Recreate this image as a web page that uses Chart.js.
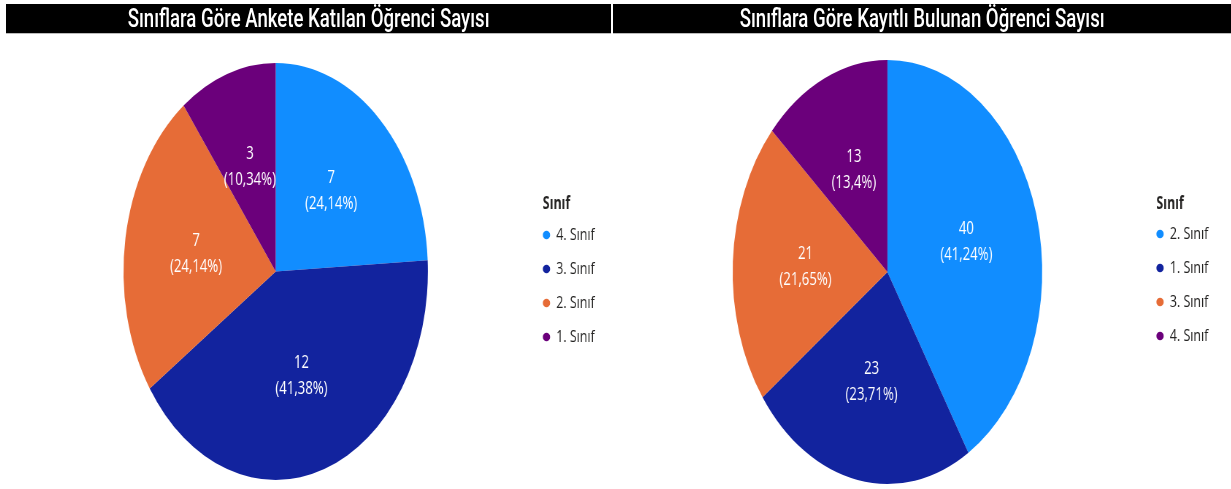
<!DOCTYPE html>
<html lang="tr">
<head>
<meta charset="UTF-8">
<title>Sınıflara Göre Öğrenci Sayısı</title>
<script src="https://cdn.jsdelivr.net/npm/chart.js"></script>
<style>
  html, body { margin: 0; padding: 0; background: #fff; }
  body { width: 1231px; height: 489px; position: relative; overflow: hidden; }
  .panel {
    position: absolute; top: 0; height: 489px;
    transform: scaleX(0.73); transform-origin: 0 0;
  }
  .bar {
    position: absolute; top: 4px; left: 0; right: 0; height: 29px;
    background: #000; color: #fff; text-align: center;
    font-family: Roboto, "Noto Sans", sans-serif; font-size: 25.5px; font-weight: 500; line-height: 29px;
    border-bottom: 1px solid #bbb;
  }
  .box { position: absolute; top: 33px; left: 0; right: 0; bottom: 0; }
</style>
</head>
<body>
<div class="panel" style="left:6px; width:829px;">
  <div class="bar">Sınıflara Göre Ankete Katılan Öğrenci Sayısı</div>
  <div class="box"><canvas id="leftChart"></canvas></div>
</div>
<div class="panel" style="left:613px; width:847px;">
  <div class="bar">Sınıflara Göre Kayıtlı Bulunan Öğrenci Sayısı</div>
  <div class="box"><canvas id="rightChart"></canvas></div>
</div>
<script>
// anket
const leftLabels = ['4. Sınıf', '3. Sınıf', '2. Sınıf', '1. Sınıf'];
const leftValues = [7, 12, 7, 3];
// kayıtlı
const rightLabels = ['2. Sınıf', '1. Sınıf', '3. Sınıf', '4. Sınıf'];
const rightValues = [40, 23, 21, 13];

const sliceColors = ['#118DFF', '#12239E', '#E66C37', '#6B007B'];
const labelFont = '"Open Sans", "Noto Sans", sans-serif';

// value + percent inside each slice
const sliceLabels = {
  id: 'sliceLabels',
  afterDatasetsDraw(chart) {
    const ctx = chart.ctx;
    const data = chart.data.datasets[0].data;
    const total = data.reduce((a, b) => a + b, 0);
    ctx.save();
    ctx.fillStyle = '#fff';
    ctx.font = '18px ' + labelFont;
    ctx.textAlign = 'center';
    ctx.textBaseline = 'middle';
    chart.getDatasetMeta(0).data.forEach((arc, i) => {
      const p = arc.getProps(['x', 'y', 'startAngle', 'endAngle', 'outerRadius'], true);
      const mid = (p.startAngle + p.endAngle) / 2;
      const r = p.outerRadius * 0.53;
      const x = p.x + Math.cos(mid) * r;
      const y = p.y + Math.sin(mid) * r;
      const pct = String(Number((data[i] / total * 100).toFixed(2))).replace('.', ',');
      ctx.fillText(String(data[i]), x, y - 13);
      ctx.fillText('(' + pct + '%)', x, y + 13);
    });
    ctx.restore();
  }
};

function makePie(id, labels, values, pad, titlePad) {
  new Chart(document.getElementById(id), {
    type: 'pie',
    data: {
      labels: labels,
      datasets: [{
        data: values,
        backgroundColor: sliceColors,
        borderWidth: 0
      }]
    },
    options: {
      responsive: true,
      maintainAspectRatio: false,
      animation: false,
      layout: { padding: pad },
      plugins: {
        tooltip: { enabled: false },
        legend: {
          position: 'right',
          align: 'start',
          title: {
            display: true,
            text: '\u2003Sınıf',
            position: 'start',
            color: '#252423',
            font: { family: labelFont, size: 17, weight: 'bold', lineHeight: 1 },
            padding: titlePad
          },
          labels: {
            usePointStyle: true,
            pointStyle: 'circle',
            boxHeight: 6,
            pointStyleWidth: 10,
            padding: 17,
            color: '#252423',
            font: { family: labelFont, size: 17 }
          }
        }
      }
    },
    plugins: [sliceLabels]
  });
}

makePie('leftChart', leftLabels, leftValues,
  { left: 20.5, right: 12.5, top: 30, bottom: 9 }, { top: 132.5, bottom: -3 });
makePie('rightChart', rightLabels, rightValues,
  { left: 24.5, right: 21.5, top: 27, bottom: 5 }, { top: 135.5, bottom: -4 });
</script>
</body>
</html>
